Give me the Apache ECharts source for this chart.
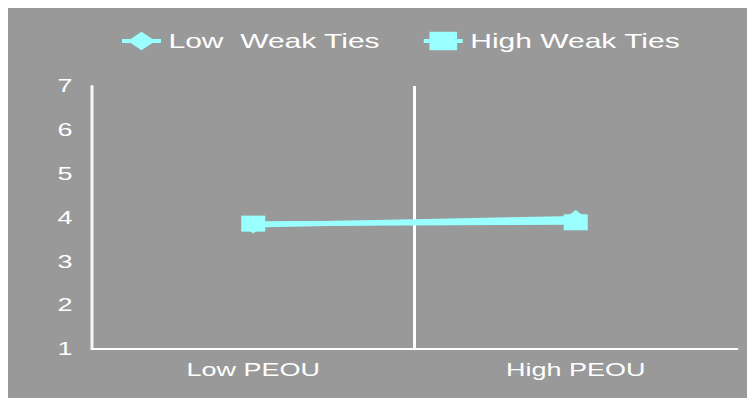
<!DOCTYPE html>
<html>
<head>
<meta charset="utf-8">
<script src="https://cdn.jsdelivr.net/npm/echarts@6/dist/echarts.min.js"></script>
<style>
  html, body { margin: 0; padding: 0; background: #ffffff; width: 747px; height: 398px; overflow: hidden; }
  /* the chart is laid out narrow and widened 1.5x, giving the wide lettering */
  #chart { position: absolute; left: 8px; top: 8px; width: 493px; height: 390px;
           transform: scaleX(1.5); transform-origin: 0 0; }
</style>
</head>
<body>
<div id="chart"></div>
<script>
const categories = ['Low PEOU', 'High PEOU'];
const seriesNames = ['Low  Weak Ties', 'High Weak Ties'];
const lowWeakTies = [3.83, 3.98];
const highWeakTies = [3.86, 3.89];
const yTicks = [1, 7, 1]; // min, max, step

const cyan = '#99ffff';
const font = 'Liberation Sans, Arial, sans-serif';

const chart = echarts.init(document.getElementById('chart'), null, { renderer: 'svg' });
chart.setOption({
  backgroundColor: '#999999',
  animation: false,
  textStyle: { fontFamily: font },
  legend: {
    left: 74,
    top: 23,
    padding: 0,
    itemWidth: 26,
    itemHeight: 23,
    itemGap: 27,
    lineStyle: { width: 4 },
    textStyle: { color: '#ffffff', fontSize: 20, fontFamily: font },
    data: seriesNames
  },
  grid: { left: 56, right: 7, top: 78, bottom: 49, containLabel: false },
  xAxis: {
    type: 'category',
    data: categories,
    boundaryGap: true,
    axisLine: { lineStyle: { color: '#ffffff', width: 2 } },
    axisTick: { show: false },
    axisLabel: { color: '#ffffff', fontSize: 18, margin: 12, fontFamily: font },
    splitLine: {
      show: true,
      showMinLine: false,
      showMaxLine: false,
      lineStyle: { color: '#ffffff', width: 2 }
    }
  },
  yAxis: {
    type: 'value',
    min: yTicks[0],
    max: yTicks[1],
    interval: yTicks[2],
    axisLine: { show: true, lineStyle: { color: '#f6f6ff', width: 2 } },
    axisTick: { show: false },
    splitLine: { show: false },
    axisLabel: { color: '#ffffff', fontSize: 18, margin: 13, fontFamily: font }
  },
  series: [
    {
      name: seriesNames[0],
      type: 'line',
      data: lowWeakTies,
      symbol: 'diamond',
      symbolSize: [15, 17],
      lineStyle: { color: cyan, width: 5 },
      itemStyle: { color: cyan },
      z: 2
    },
    {
      name: seriesNames[1],
      type: 'line',
      data: highWeakTies,
      symbol: 'rect',
      symbolSize: [16, 16],
      lineStyle: { color: cyan, width: 5 },
      itemStyle: { color: cyan },
      z: 3
    }
  ]
});
</script>
</body>
</html>
